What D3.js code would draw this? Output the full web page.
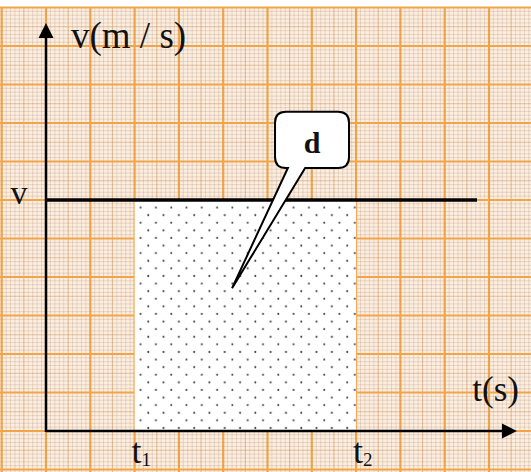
<!DOCTYPE html>
<html><head><meta charset="utf-8">
<script src="https://cdn.jsdelivr.net/npm/d3@7"></script>
<style>html,body{margin:0;padding:0;background:#fff;overflow:hidden;} svg{display:block;}</style>
</head><body><svg id="c" width="531" height="472"></svg>
<script>
// ---- data (grid units) ----
const timeMarks = [2, 7];              // t1, t2
const timeSubs = ["1", "2"];
const velocity = [6];                  // constant speed v
const lineSpan = [0, 9.73];            // extent of v(t) line
const axisTips = [10.63, 10.6];        // x-axis tip, y-axis tip
const axisTitles = ["v(m / s)", "t(s)"];
const vTickLabel = ["v"];
const areaLabel = ["d"];
const calloutBox = [5.17, 6.84, 8.29, 6.83];   // t0, t1, vTop, vBottom
const calloutBase = [5.46, 5.85];
const calloutTip = [4.2, 3.71];

const svg = d3.select("#c");
const W = 531, H = 472;
const x = d3.scaleLinear().domain([0, 10]).range([46, 489]);
const y = d3.scaleLinear().domain([0, 10]).range([431, 46]);

// ---- graph paper ----
svg.append("rect").attr("width", W).attr("height", H).attr("fill", "#fff");
svg.append("rect").attr("x", 0).attr("y", 7).attr("width", W).attr("height", H - 7).attr("fill", "#fdeee0");
const g = svg.append("g");
const kx = d3.range(-12, 125), ky = d3.range(-12, 130);
function lineStyle(k) {
  if (k % 10 === 0) return ["#f2a448", 2.2];
  if (k % 5 === 0) return ["rgba(205,150,95,0.55)", 1.2];
  return ["rgba(175,145,115,0.28)", 1];
}
kx.forEach(k => {
  const px = x(k / 10); if (px < -2 || px > W + 2) return;
  const [c, w] = lineStyle(k);
  g.append("line").attr("x1", px).attr("x2", px).attr("y1", 7).attr("y2", H).attr("stroke", c).attr("stroke-width", w);
});
ky.forEach(k => {
  const py = y(k / 10); if (py < 7 || py > H + 2) return;
  const [c, w] = lineStyle(k);
  g.append("line").attr("y1", py).attr("y2", py).attr("x1", 0).attr("x2", W).attr("stroke", c).attr("stroke-width", w);
});

// ---- dotted area ----
const defs = svg.append("defs");
const pat = defs.append("pattern").attr("id", "dots").attr("patternUnits", "userSpaceOnUse")
  .attr("x", x(timeMarks[0])).attr("y", y(velocity[0])).attr("width", 15.3).attr("height", 15.2);
pat.append("rect").attr("width", 15.3).attr("height", 15.2).attr("fill", "#fff");
pat.append("circle").attr("cx", 6).attr("cy", 7.5).attr("r", 1).attr("fill", "#444");
pat.append("circle").attr("cx", 13.65).attr("cy", 15.1).attr("r", 1).attr("fill", "#444");
pat.append("circle").attr("cx", 13.65).attr("cy", 0.1).attr("r", 1).attr("fill", "#444");

svg.append("rect")
  .attr("x", x(timeMarks[0])).attr("y", y(velocity[0]))
  .attr("width", x(timeMarks[1]) - x(timeMarks[0]))
  .attr("height", y(0) - y(velocity[0]))
  .attr("fill", "url(#dots)");

// ---- v line ----
svg.append("line").attr("x1", x(lineSpan[0])).attr("x2", x(lineSpan[1]))
  .attr("y1", y(velocity[0])).attr("y2", y(velocity[0]))
  .attr("stroke", "#000").attr("stroke-width", 3.5);

// ---- axes ----
svg.append("line").attr("x1", x(0)).attr("x2", x(axisTips[0]) - 12).attr("y1", y(0)).attr("y2", y(0))
  .attr("stroke", "#000").attr("stroke-width", 2.5);
svg.append("line").attr("x1", x(0)).attr("x2", x(0)).attr("y1", y(0) + 1).attr("y2", y(axisTips[1]) + 12)
  .attr("stroke", "#000").attr("stroke-width", 2.5);
const tx = x(axisTips[0]), ty = y(axisTips[1]);
svg.append("path").attr("d", `M${tx},${y(0)} L${tx - 15},${y(0) - 7.5} L${tx - 15},${y(0) + 7.5} Z`).attr("fill", "#000");
svg.append("path").attr("d", `M${x(0)},${ty} L${x(0) - 7.5},${ty + 15} L${x(0) + 7.5},${ty + 15} Z`).attr("fill", "#000");

// ---- labels ----
const serif = "'Liberation Serif','Times New Roman',serif";
svg.append("text").attr("x", x(0) + 25).attr("y", 48).attr("font-family", serif).attr("font-size", 37)
  .attr("fill", "#111").text(axisTitles[0]);
svg.append("text").attr("x", x(axisTips[0]) + 2).attr("y", 401).attr("text-anchor", "end")
  .attr("font-family", serif).attr("font-size", 35).attr("fill", "#111").text(axisTitles[1]);
svg.append("text").attr("x", 19).attr("y", y(velocity[0]) + 4).attr("text-anchor", "middle")
  .attr("font-family", serif).attr("font-size", 34).attr("fill", "#111").text(vTickLabel[0]);

timeMarks.forEach((t, i) => {
  const tt = svg.append("text").attr("x", x(t) - 3).attr("y", 463).attr("font-family", serif)
    .attr("font-size", 36).attr("fill", "#111");
  tt.append("tspan").text("t");
  tt.append("tspan").attr("font-size", 19).attr("dy", 3).text(timeSubs[i]);
});

// ---- callout ----
const bx0 = x(calloutBox[0]), bx1 = x(calloutBox[1]), byt = y(calloutBox[2]), byb = y(calloutBox[3]);
const r = 11;
const p1 = x(calloutBase[0]), p2 = x(calloutBase[1]);
const tipX = x(calloutTip[0]), tipY = y(calloutTip[1]);
const path = `M${bx0 + r},${byt} H${bx1 - r} Q${bx1},${byt} ${bx1},${byt + r} V${byb - r} Q${bx1},${byb} ${bx1 - r},${byb}
 H${p2} L${tipX},${tipY} L${p1},${byb} H${bx0 + r} Q${bx0},${byb} ${bx0},${byb - r} V${byt + r} Q${bx0},${byt} ${bx0 + r},${byt} Z`;
svg.append("path").attr("d", path).attr("fill", "#fff").attr("stroke", "#000").attr("stroke-width", 2).attr("stroke-linejoin", "miter");
svg.append("text").attr("x", (bx0 + bx1) / 2).attr("y", 153).attr("text-anchor", "middle")
  .attr("font-family", serif).attr("font-weight", "bold").attr("font-size", 30).attr("fill", "#111").text(areaLabel[0]);
</script>
</body></html>
